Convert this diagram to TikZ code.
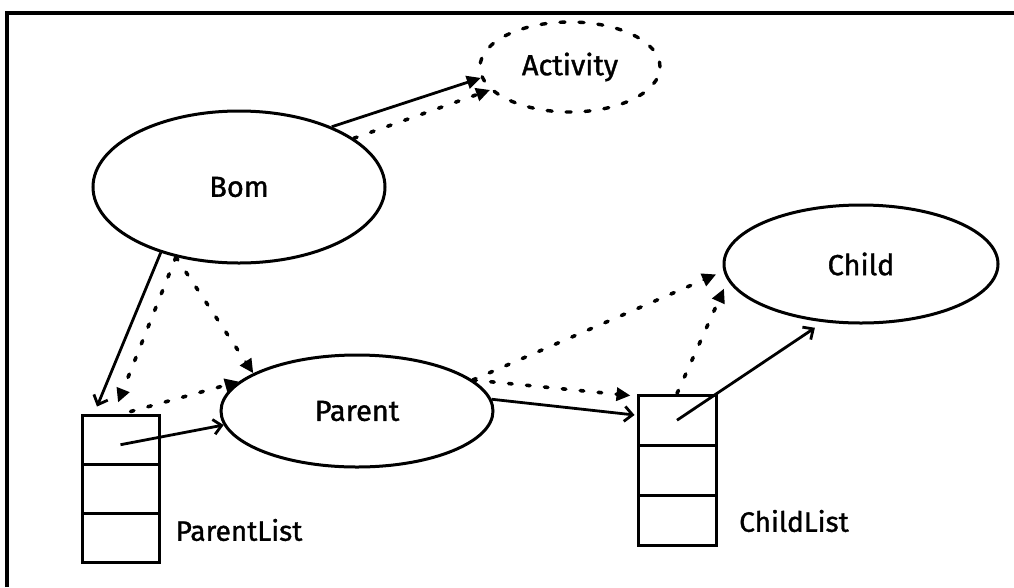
\documentclass[tikz,border=0pt]{standalone}
\usepackage{fontspec}
\setmainfont{Fira Sans}
\newfontfamily\labelface{Fira Sans}[FakeBold=1.2]
\usetikzlibrary{arrows.meta,shapes.geometric}
\begin{document}
\begin{tikzpicture}[x=1pt,y=-1pt,
  obj/.style={ellipse,draw,line width=3pt,inner sep=0pt,
    font=\labelface\fontsize{29}{33}\selectfont},
  dashobj/.style={obj,dash pattern=on 5pt off 14pt,line cap=round,line width=3.4pt},
  cell/.style={rectangle,draw,line width=3pt,inner sep=0pt},
  lbl/.style={inner sep=0pt,font=\labelface\fontsize{28}{32}\selectfont},
  link/.style={line width=2.8pt},
  dots/.style={line width=3.6pt,dash pattern=on 3.5pt off 14.5pt,line cap=round},
  tri/.style={-{Triangle[length=14pt,width=13pt]}},
  barb/.style={-{Straight Barb[length=8pt,width=15pt]}}
]
\useasboundingbox (0,0) rectangle (1014,587);
% frame
\draw[line width=3.4pt] (7,587) -- (7,13) -- (1014,13);

% objects
\node[obj,minimum width=292pt,minimum height=152pt] (bom) at (239,187) {Bom};
\node[dashobj,minimum width=180pt,minimum height=90pt] (activity) at (570,67) {Activity};
\node[obj,minimum width=272pt,minimum height=112pt] (parent) at (357,411) {Parent};
\node[obj,minimum width=274pt,minimum height=118pt] (child) at (861,264) {Child};

% ParentList cells
\node[cell,minimum width=77pt,minimum height=49.3pt] (pl1) at (120.5,439.7) {};
\node[cell,minimum width=77pt,minimum height=49.3pt] (pl2) at (120.5,489) {};
\node[cell,minimum width=77pt,minimum height=49.3pt] (pl3) at (120.5,538.3) {};
% ChildList cells
\node[cell,minimum width=78pt,minimum height=50.3pt] (cl1) at (677,420.2) {};
\node[cell,minimum width=78pt,minimum height=50.3pt] (cl2) at (677,470.5) {};
\node[cell,minimum width=78pt,minimum height=50.3pt] (cl3) at (677,520.8) {};

\node[lbl] (pllabel) at (239,530) {ParentList};
\node[lbl] (cllabel) at (794,521) {ChildList};

% connectors
\draw[link,tri] (bom.33) -- (activity.187);
\draw[dots,tri] (bom.23) -- (activity.196);
\draw[link,barb] (bom.220) -- ([xshift=-23.5pt,yshift=7pt]pl1.north);
\draw[dots,tri] (bom.228) -- ([xshift=-2.5pt,yshift=11pt]pl1.north);
\draw[dots,tri] (bom.228) -- (parent.160);
\draw[dots,tri] ([xshift=10pt,yshift=2pt]pl1.north) -- (parent.166);
\draw[link,barb] ([yshift=-5pt]pl1.center) -- (parent.186);
\draw[link,barb,shorten >=2pt] (parent.5) -- ([yshift=5pt]cl1.west);
\draw[dots,tri] (parent.15) -- ([xshift=-6pt,yshift=-2pt]cl1.north west);
\draw[dots,tri,shorten >=8pt] (parent.15) -- (child.183);
\draw[dots,tri,shorten >=9pt] (cl1.north) -- (child.187);
\draw[link,barb,shorten >=10pt] (cl1.center) -- (child.237);
\end{tikzpicture}
\end{document}
